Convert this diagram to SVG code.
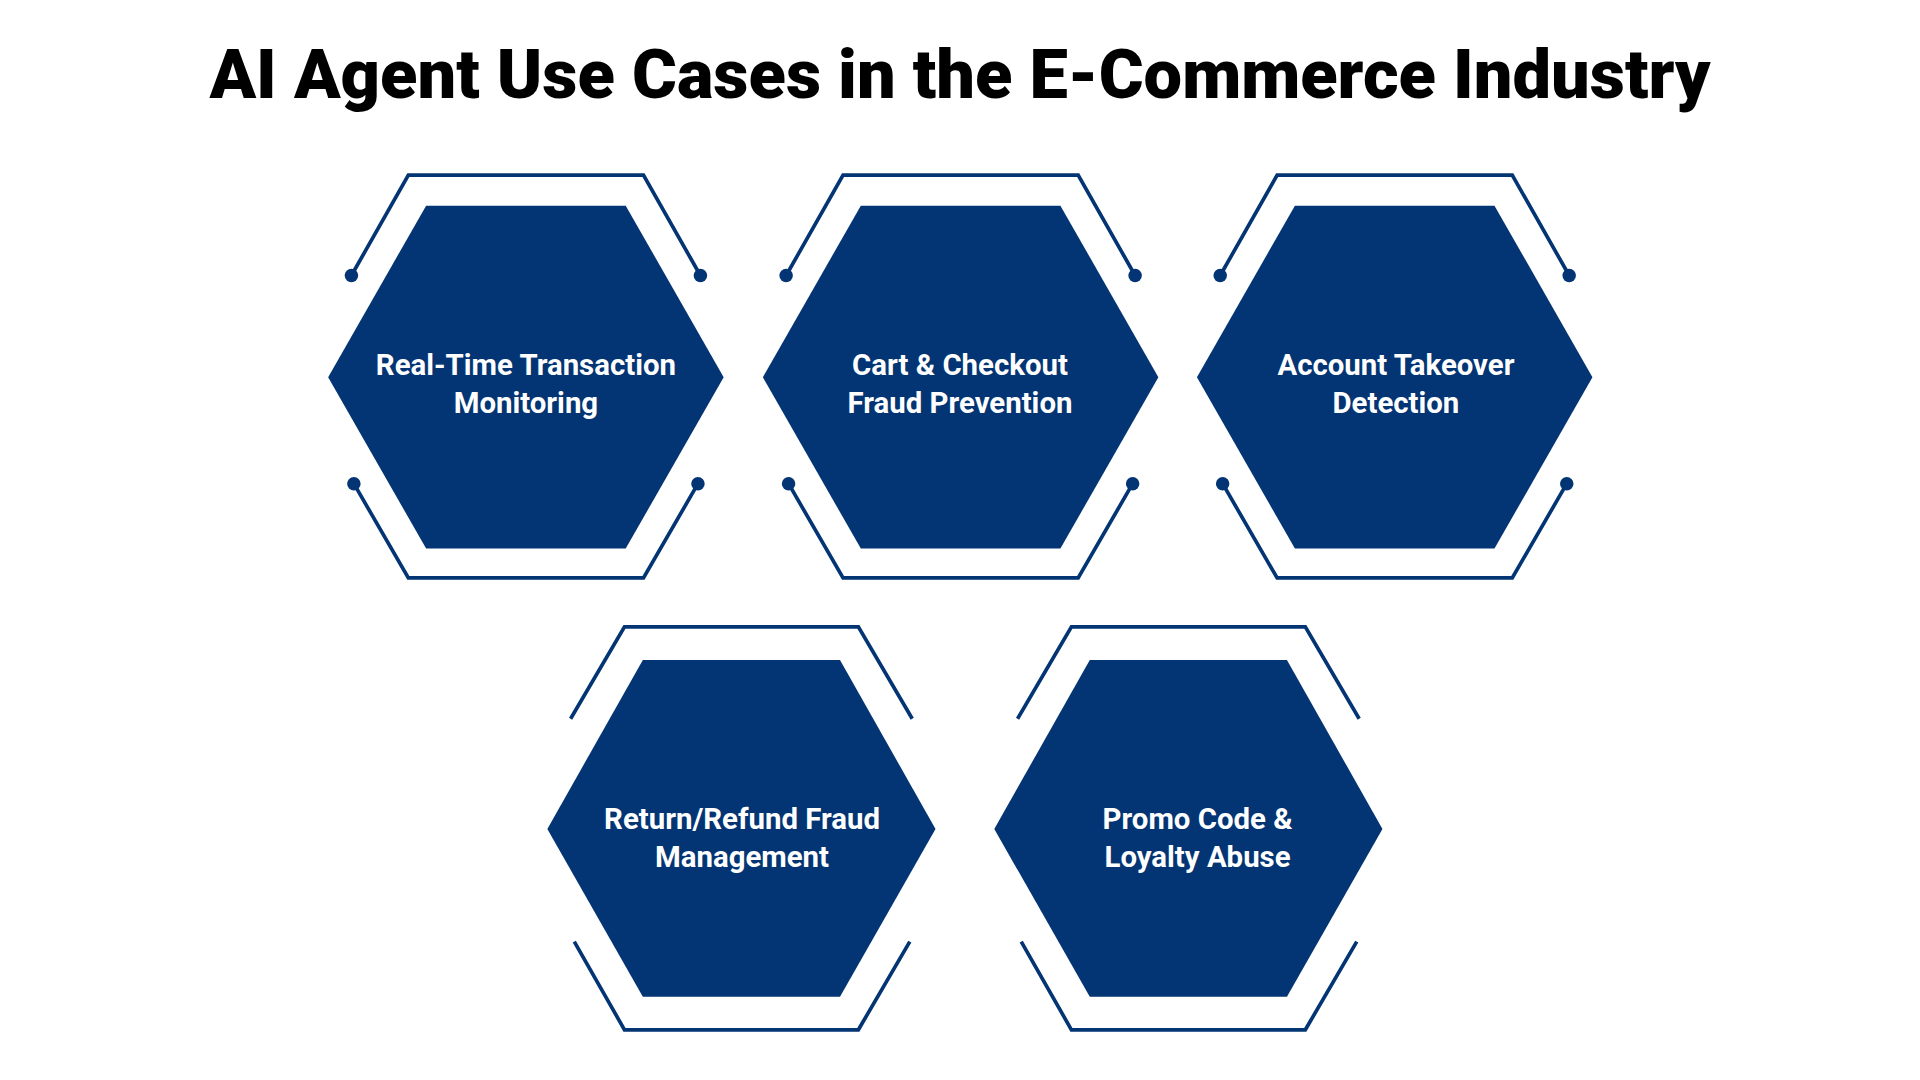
<svg xmlns="http://www.w3.org/2000/svg" width="1920" height="1080" viewBox="0 0 1920 1080">
<style>
.hex{fill:#033473}
.fr{fill:none;stroke:#033473;stroke-width:3}
.dot{fill:#033473}
.lbl{font-family:Roboto,"Liberation Sans",sans-serif;font-weight:700;font-size:24px;fill:#fff;text-anchor:middle}
.title{font-family:Roboto,"Liberation Sans",sans-serif;font-weight:900;font-size:56px;fill:#000;text-anchor:middle}
</style>
<defs>
<g id="h1">
<polygon class="hex" points="-81.5,-140 81.5,-140 161.5,0 81.5,140 -81.5,140 -161.5,0"/>
<polyline class="fr" points="-142.5,-83 -96,-165 96,-165 142.5,-83"/>
<polyline class="fr" points="-140.5,87 -96,164 96,164 140.5,87"/>
<circle class="dot" cx="-142.5" cy="-83" r="5.5"/><circle class="dot" cx="142.5" cy="-83" r="5.5"/>
<circle class="dot" cx="-140.5" cy="87" r="5.5"/><circle class="dot" cx="140.5" cy="87" r="5.5"/>
</g>
<g id="h2">
<polygon class="hex" points="-81,-138 80,-138 158,0 80,137 -81,137 -159,0"/>
<polyline class="fr" points="-140,-90 -96,-165 95,-165 139,-90"/>
<polyline class="fr" points="-137,92 -96,164 95,164 137,92"/>
</g>
</defs>
<rect width="1920" height="1080" fill="#fff"/>
<g transform="scale(1.22449)">
<text class="title" x="784" y="80">AI Agent Use Cases in the E-Commerce Industry</text>
<g id="n1"><use href="#h1" x="429.5" y="308"/><text class="lbl" x="429.5" y="306">Real-Time Transaction</text><text class="lbl" x="429.5" y="337">Monitoring</text></g>
<g id="n2"><use href="#h1" x="784.5" y="308"/><text class="lbl" x="784" y="306">Cart &amp; Checkout</text><text class="lbl" x="784" y="337">Fraud Prevention</text></g>
<g id="n3"><use href="#h1" x="1139" y="308"/><text class="lbl" x="1140" y="306">Account Takeover</text><text class="lbl" x="1140" y="337">Detection</text></g>
<g id="n4"><use href="#h2" x="606" y="677"/><text class="lbl" x="606" y="677">Return/Refund Fraud</text><text class="lbl" x="606" y="708">Management</text></g>
<g id="n5"><use href="#h2" x="971" y="677"/><text class="lbl" x="978" y="677">Promo Code &amp;</text><text class="lbl" x="978" y="708">Loyalty Abuse</text></g>
<g id="connectors"/>
</g>
</svg>
